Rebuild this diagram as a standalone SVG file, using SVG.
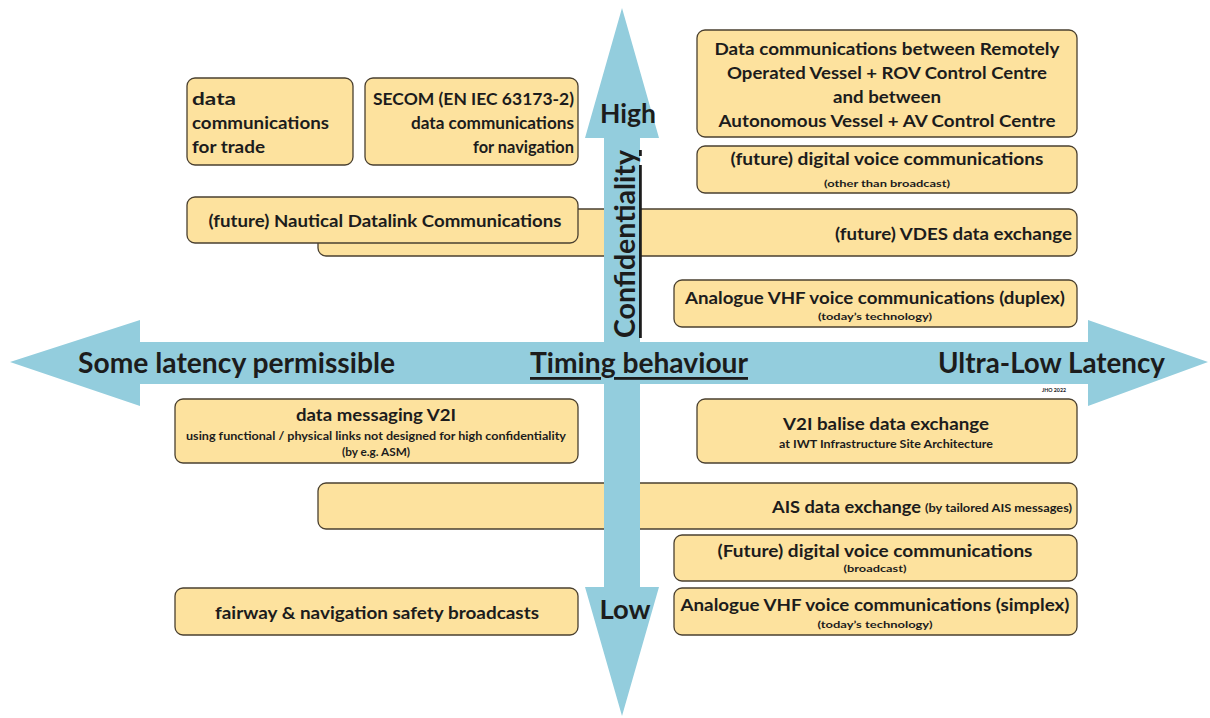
<svg xmlns="http://www.w3.org/2000/svg" width="1210" height="718" viewBox="0 0 1210 718">
<style>
.box{fill:#FDE29E;stroke:#4a4030;stroke-width:1.3}
.t{font-family:Lato,"Liberation Sans",sans-serif;font-weight:700;fill:#1c1c1c;dominant-baseline:central}
.m{font-size:17px}
.s{font-size:11px}
.xs{font-size:10px}
.ax{font-size:28px}
.arrow{fill:#93CDDD}
</style>
<rect width="1210" height="718" fill="#ffffff"/>
<g id="axis-timing">
<polygon class="arrow" points="10,362 140,320 140,342 1088,342 1088,320 1208,362 1088,406 1088,384 140,384 140,406"/>
</g>
<g id="n-trade">
<rect class="box" x="187" y="78" width="166" height="87" rx="8"/>
<text class="t m" x="192" y="98" textLength="44" lengthAdjust="spacingAndGlyphs">data</text>
<text class="t m" x="192" y="122" textLength="137" lengthAdjust="spacingAndGlyphs">communications</text>
<text class="t m" x="192" y="146" textLength="73" lengthAdjust="spacingAndGlyphs">for trade</text>
</g>
<g id="n-secom">
<rect class="box" x="365" y="78" width="213" height="87" rx="8"/>
<text class="t m" x="574" y="98" text-anchor="end" textLength="201" lengthAdjust="spacingAndGlyphs">SECOM (EN IEC 63173-2)</text>
<text class="t m" x="574" y="122" text-anchor="end" textLength="163" lengthAdjust="spacingAndGlyphs">data communications</text>
<text class="t m" x="574" y="146" text-anchor="end" textLength="101" lengthAdjust="spacingAndGlyphs">for navigation</text>
</g>
<g id="n-rov">
<rect class="box" x="697" y="30" width="380" height="107" rx="8"/>
<text class="t m" x="887" y="48" text-anchor="middle" textLength="345" lengthAdjust="spacingAndGlyphs">Data communications between Remotely</text>
<text class="t m" x="887" y="72" text-anchor="middle" textLength="320" lengthAdjust="spacingAndGlyphs">Operated Vessel + ROV Control Centre</text>
<text class="t m" x="887" y="96" text-anchor="middle" textLength="108" lengthAdjust="spacingAndGlyphs">and between</text>
<text class="t m" x="887" y="120" text-anchor="middle" textLength="337" lengthAdjust="spacingAndGlyphs">Autonomous Vessel + AV Control Centre</text>
</g>
<g id="n-digital-voice">
<rect class="box" x="697" y="146" width="380" height="47" rx="8"/>
<text class="t m" x="887" y="158" text-anchor="middle" textLength="313" lengthAdjust="spacingAndGlyphs">(future) digital voice communications</text>
<text class="t xs" x="887" y="183" text-anchor="middle" textLength="126" lengthAdjust="spacingAndGlyphs">(other than broadcast)</text>
</g>
<g id="n-vdes">
<rect class="box" x="318" y="209" width="759" height="47" rx="8"/>
<text class="t m" x="1072" y="233" text-anchor="end" textLength="237" lengthAdjust="spacingAndGlyphs">(future) VDES data exchange</text>
</g>
<g id="n-nautical">
<rect class="box" x="187" y="197" width="391" height="46" rx="8"/>
<text class="t m" x="385" y="220" text-anchor="middle" textLength="353" lengthAdjust="spacingAndGlyphs">(future) Nautical Datalink Communications</text>
</g>
<g id="n-duplex">
<rect class="box" x="674" y="280" width="403" height="47" rx="8"/>
<text class="t m" x="875" y="297" text-anchor="middle" textLength="380" lengthAdjust="spacingAndGlyphs">Analogue VHF voice communications (duplex)</text>
<text class="t xs" x="875" y="316" text-anchor="middle" textLength="114" lengthAdjust="spacingAndGlyphs">(today’s technology)</text>
</g>
<g id="n-v2i-msg">
<rect class="box" x="175" y="399" width="403" height="64" rx="8"/>
<text class="t m" x="376" y="414" text-anchor="middle" textLength="160" lengthAdjust="spacingAndGlyphs">data messaging V2I</text>
<text class="t s" x="376" y="435" text-anchor="middle" textLength="380" lengthAdjust="spacingAndGlyphs">using functional / physical links not designed for high confidentiality</text>
<text class="t s" x="376" y="451" text-anchor="middle" textLength="68" lengthAdjust="spacingAndGlyphs">(by e.g. ASM)</text>
</g>
<g id="n-balise">
<rect class="box" x="697" y="399" width="380" height="64" rx="8"/>
<text class="t m" x="886" y="423" text-anchor="middle" textLength="206" lengthAdjust="spacingAndGlyphs">V2I balise data exchange</text>
<text class="t s" x="886" y="443" text-anchor="middle" textLength="214" lengthAdjust="spacingAndGlyphs">at IWT Infrastructure Site Architecture</text>
</g>
<g id="n-ais">
<rect class="box" x="318" y="483" width="759" height="46" rx="8"/>
<text class="t m" x="772" y="506" textLength="149" lengthAdjust="spacingAndGlyphs">AIS data exchange</text>
<text class="t s" x="925" y="507" textLength="147" lengthAdjust="spacingAndGlyphs">(by tailored AIS messages)</text>
</g>
<g id="n-future-broadcast">
<rect class="box" x="674" y="535" width="403" height="46" rx="8"/>
<text class="t m" x="875" y="550" text-anchor="middle" textLength="315" lengthAdjust="spacingAndGlyphs">(Future) digital voice communications</text>
<text class="t xs" x="875" y="568" text-anchor="middle" textLength="63" lengthAdjust="spacingAndGlyphs">(broadcast)</text>
</g>
<g id="n-fairway">
<rect class="box" x="175" y="588" width="403" height="47" rx="8"/>
<text class="t m" x="377" y="612" text-anchor="middle" textLength="324" lengthAdjust="spacingAndGlyphs">fairway &amp; navigation safety broadcasts</text>
</g>
<g id="n-simplex">
<rect class="box" x="674" y="588" width="403" height="47" rx="8"/>
<text class="t m" x="875" y="604" text-anchor="middle" textLength="389" lengthAdjust="spacingAndGlyphs">Analogue VHF voice communications (simplex)</text>
<text class="t xs" x="875" y="624" text-anchor="middle" textLength="115" lengthAdjust="spacingAndGlyphs">(today’s technology)</text>
</g>
<g id="axis-confidentiality">
<polygon class="arrow" points="622,8 659,138 640,138 640,587 659,587 622,716 585,587 604,587 604,138 585,138"/>
</g>
<g id="axis-labels">
<text class="t ax" x="78" y="362" textLength="317" lengthAdjust="spacingAndGlyphs">Some latency permissible</text>
<text class="t ax" x="530" y="362" textLength="218" lengthAdjust="spacingAndGlyphs" text-decoration="underline">Timing behaviour</text>
<text class="t ax" x="1165" y="362" text-anchor="end" textLength="227" lengthAdjust="spacingAndGlyphs">Ultra-Low Latency</text>
<text class="t" x="628" y="113" text-anchor="middle" font-size="26" textLength="56" lengthAdjust="spacingAndGlyphs">High</text>
<text class="t" x="625" y="609" text-anchor="middle" font-size="26" textLength="51" lengthAdjust="spacingAndGlyphs">Low</text>
<text class="t ax" transform="translate(624,244) rotate(-90)" x="0" y="0" text-anchor="middle" textLength="188" lengthAdjust="spacingAndGlyphs" text-decoration="underline">Confidentiality</text>
<text class="t" x="1054" y="389" text-anchor="middle" font-size="6" textLength="24" lengthAdjust="spacingAndGlyphs">JHO 2022</text>
</g>
</svg>
